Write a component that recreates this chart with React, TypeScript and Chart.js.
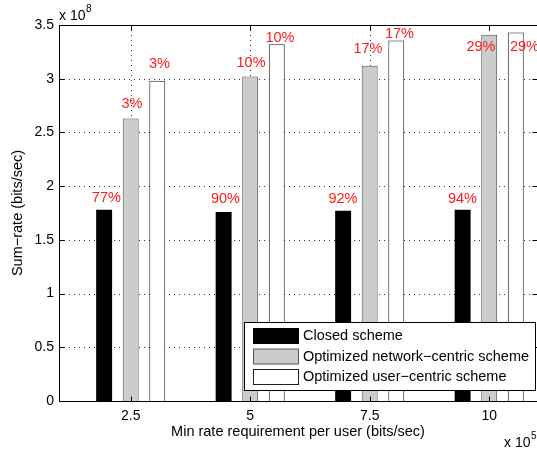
import React, { useEffect, useRef } from 'react';
import { Chart, registerables } from 'chart.js';

Chart.register(...registerables);

// ---- data ----
const categories = [2.5, 5, 7.5, 10];
const xTickLabels = ['2.5', '5', '7.5', '10'];
const yTickValues = [0, 0.5, 1, 1.5, 2, 2.5, 3, 3.5];
const yTickLabels = ['0', '0.5', '1', '1.5', '2', '2.5', '3', '3.5'];
const seriesNames = [
  'Closed scheme',
  'Optimized network\u2212centric scheme',
  'Optimized user\u2212centric scheme',
];
const closedScheme = [1.78, 1.76, 1.77, 1.78];
const networkCentric = [2.63, 3.02, 3.12, 3.41];
const userCentric = [2.98, 3.32, 3.355, 3.43];

const closedLabels = ['77%', '90%', '92%', '94%'];
const networkLabels = ['3%', '10%', '17%', '29%'];
const userLabels = ['3%', '10%', '17%', '29%'];
// text anchors in data units (like MATLAB text(x, y, str))
const closedLabelX = [1.99, 4.483, 6.941, 9.441];
const closedLabelY = [1.89, 1.881, 1.883, 1.883];
const networkLabelX = [2.527, 5.017, 7.464, 9.828];
const networkLabelY = [2.766, 3.15, 3.274, 3.293];
const userLabelX = [3.103, 5.623, 8.123, 10.738];
const userLabelY = [3.135, 3.376, 3.416, 3.293];

const xTitle = 'Min rate requirement per user (bits/sec)';
const yTitle = 'Sum\u2212rate (bits/sec)';
const xExponent = '5';
const yExponent = '8';

// ---- styles ----
const FONT = '"Liberation Sans", Arial, Helvetica, sans-serif';
const fills = ['#000000', '#cccccc', '#ffffff'];
const edges = ['#000000', '#555555', '#222222'];

const matlabPlugin = {
  id: 'matlabLook',
  beforeDatasetsDraw(chart: any) {
    const { ctx, chartArea: a, scales } = chart;
    const x = scales.x;
    const y = scales.y;
    ctx.save();
    ctx.strokeStyle = 'rgba(0,0,0,0.8)';
    ctx.lineWidth = 1;
    ctx.setLineDash([1, 4]);
    for (const v of yTickValues) {
      if (v === 0 || v === 3.5) continue;
      const py = Math.round(y.getPixelForValue(v)) + 0.5;
      ctx.beginPath();
      ctx.moveTo(a.left, py);
      ctx.lineTo(a.right, py);
      ctx.stroke();
    }
    for (const v of categories) {
      const px = Math.round(x.getPixelForValue(v)) + 0.5;
      ctx.beginPath();
      ctx.moveTo(px, a.top);
      ctx.lineTo(px, a.bottom);
      ctx.stroke();
    }
    ctx.restore();
  },
  afterDatasetsDraw(chart: any) {
    const { ctx, chartArea: a, scales } = chart;
    const x = scales.x;
    const y = scales.y;
    ctx.save();
    ctx.setLineDash([]);
    ctx.strokeStyle = '#000';
    ctx.lineWidth = 1;
    const L = a.left + 0.5;
    const R = a.right + 0.5;
    const T = a.top + 0.5;
    const B = a.bottom + 0.5;
    ctx.strokeRect(L, T, R - L, B - T);
    const tl = 5;
    ctx.beginPath();
    for (const v of yTickValues) {
      const py = Math.round(y.getPixelForValue(v)) + 0.5;
      ctx.moveTo(L, py);
      ctx.lineTo(L + tl, py);
      ctx.moveTo(R, py);
      ctx.lineTo(R - tl, py);
    }
    for (const v of categories) {
      const px = Math.round(x.getPixelForValue(v)) + 0.5;
      ctx.moveTo(px, B);
      ctx.lineTo(px, B - tl);
      ctx.moveTo(px, T);
      ctx.lineTo(px, T + tl);
    }
    ctx.stroke();

    // red percentage labels
    ctx.fillStyle = '#ff1a1a';
    ctx.font = `14.5px ${FONT}`;
    ctx.textAlign = 'center';
    ctx.textBaseline = 'middle';
    const groups = [
      [closedLabels, closedLabelX, closedLabelY],
      [networkLabels, networkLabelX, networkLabelY],
      [userLabels, userLabelX, userLabelY],
    ] as [string[], number[], number[]][];
    for (const [txt, lx, ly] of groups) {
      txt.forEach((t, i) => {
        ctx.fillText(t, x.getPixelForValue(lx[i]), y.getPixelForValue(ly[i]));
      });
    }
    ctx.restore();
  },
  afterDraw(chart: any) {
    const { ctx } = chart;
    ctx.save();
    // legend box
    const bx = 244.5, by = 322.5, bw = 291, bh = 68;
    ctx.fillStyle = '#fff';
    ctx.fillRect(bx, by, bw, bh);
    ctx.strokeStyle = '#000';
    ctx.lineWidth = 1;
    ctx.strokeRect(bx, by, bw, bh);
    ctx.font = `14.5px ${FONT}`;
    ctx.textAlign = 'left';
    ctx.textBaseline = 'middle';
    seriesNames.forEach((name, i) => {
      const sy = 328.5 + i * 20.5;
      ctx.fillStyle = fills[i];
      ctx.fillRect(253.5, sy, 45, 15);
      ctx.strokeStyle = edges[i];
      ctx.strokeRect(253.5, sy, 45, 15);
      ctx.fillStyle = '#000';
      ctx.fillText(name, 303, sy + 7.5);
    });

    // exponent labels
    const drawExp = (xx: number, base: number, exp: string) => {
      ctx.textBaseline = 'alphabetic';
      ctx.textAlign = 'left';
      ctx.fillStyle = '#000';
      ctx.font = `14px ${FONT}`;
      const main = 'x 10';
      ctx.fillText(main, xx, base);
      const w = ctx.measureText(main).width;
      ctx.font = `10px ${FONT}`;
      ctx.fillText(exp, xx + w + 0.5, base - 8);
    };
    drawExp(59, 19.5, yExponent);
    drawExp(504, 446.5, xExponent);
    ctx.restore();
  },
};

export default function App() {
  const canvasRef = useRef<HTMLCanvasElement | null>(null);

  useEffect(() => {
    const canvas = canvasRef.current;
    if (!canvas) return;
    const seriesValues = [closedScheme, networkCentric, userCentric];
    const chart = new Chart(canvas, {
      type: 'bar',
      data: {
        datasets: seriesValues.map((vals, s) => ({
          label: seriesNames[s],
          data: categories.map((c, i) => ({ x: c, y: vals[i] })),
          backgroundColor: fills[s],
          borderColor: edges[s],
          borderWidth: s === 0 ? 0 : 1,
          borderSkipped: 'start',
          inflateAmount: 0,
          categoryPercentage: 0.667,
          barPercentage: 0.6,
        })),
      },
      options: {
        animation: false,
        responsive: false,
        devicePixelRatio: 1,
        events: [],
        layout: { padding: { top: 25, right: 8, left: 0, bottom: 0 } },
        plugins: {
          legend: { display: false },
          tooltip: { enabled: false },
          title: { display: false },
        },
        scales: {
          x: {
            type: 'linear',
            min: 1,
            max: 11,
            offset: false,
            grid: { display: false, offset: false, drawTicks: false },
            border: { display: false },
            afterBuildTicks: (scale: any) => {
              scale.ticks = categories.map((v) => ({ value: v }));
            },
            afterFit: (scale: any) => {
              scale.height = 50;
            },
            ticks: {
              autoSkip: false,
              maxRotation: 0,
              padding: 6.5,
              color: '#000',
              font: { family: FONT, size: 14 },
              callback: (v: any) => {
                const i = categories.indexOf(Number(v));
                return i >= 0 ? xTickLabels[i] : '';
              },
            },
            title: {
              display: true,
              text: xTitle,
              color: '#000',
              font: { family: FONT, size: 14.5 },
              padding: { top: 0, bottom: 10.6 },
            },
          },
          y: {
            type: 'linear',
            min: 0,
            max: 3.5,
            grid: { display: false, drawTicks: false },
            border: { display: false },
            afterBuildTicks: (scale: any) => {
              scale.ticks = yTickValues.map((v) => ({ value: v }));
            },
            afterFit: (scale: any) => {
              scale.width = 59;
            },
            ticks: {
              autoSkip: false,
              padding: 5,
              color: '#000',
              font: { family: FONT, size: 14 },
              callback: (v: any) => {
                const i = yTickValues.indexOf(Number(v));
                return i >= 0 ? yTickLabels[i] : '';
              },
            },
            title: {
              display: true,
              text: yTitle,
              color: '#000',
              font: { family: FONT, size: 14.5 },
              padding: { top: 9.6, bottom: 0 },
            },
          },
        },
      },
      plugins: [matlabPlugin],
    } as any);
    return () => chart.destroy();
  }, []);

  return (
    <div
      style={{
        position: 'absolute',
        left: 0,
        top: 0,
        width: 537,
        height: 451,
        overflow: 'hidden',
        background: '#fff',
      }}
    >
      <canvas ref={canvasRef} width={545} height={451} style={{ width: 545, height: 451, display: 'block' }} />
    </div>
  );
}
